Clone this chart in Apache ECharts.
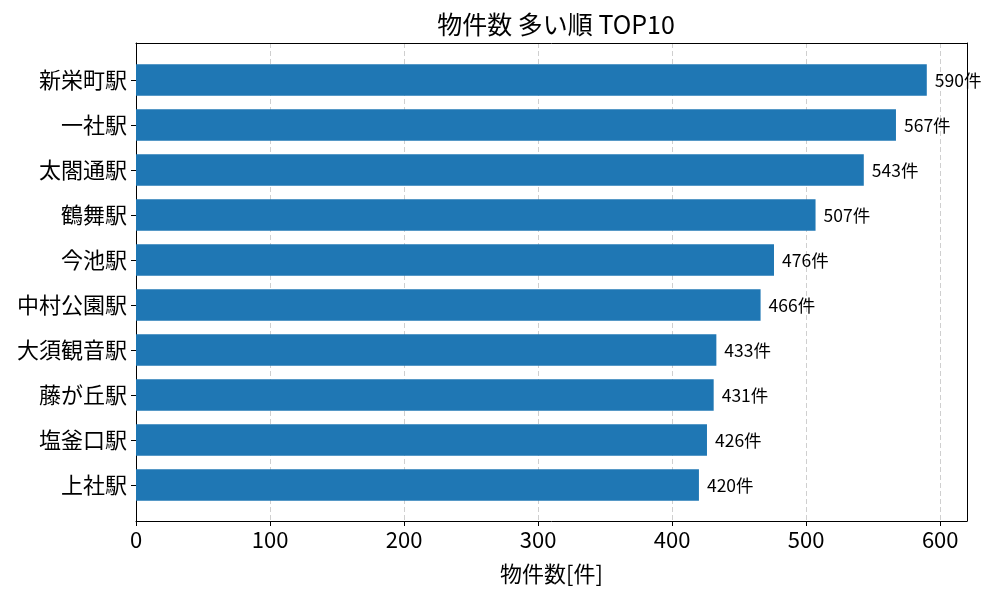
<!DOCTYPE html>
<html>
<head>
<meta charset="utf-8">
<script src="https://cdn.jsdelivr.net/npm/echarts@6/dist/echarts.min.js"></script>
<style>
  html, body { margin: 0; padding: 0; background: #fff; }
  #main { width: 1000px; height: 600px; }
</style>
</head>
<body>
<div id="main"></div>
<script type="text/javascript">
// 駅名（上から多い順）
var stations = ['新栄町駅', '一社駅', '太閤通駅', '鶴舞駅', '今池駅', '中村公園駅', '大須観音駅', '藤が丘駅', '塩釜口駅', '上社駅'];
// 物件数
var counts = [590, 567, 543, 507, 476, 466, 433, 431, 426, 420];

var FONT = '"Noto Sans CJK JP", "Noto Sans", sans-serif';

// 枠線用の軸（ラベル・目盛なし）
function frameLine() {
    return { show: true, onZero: false, lineStyle: { color: '#000', width: 1 } };
}

var chart = echarts.init(document.getElementById('main'));
chart.setOption({
    backgroundColor: '#fff',
    animation: false,
    title: {
        text: '物件数 多い順 TOP10',
        left: 551,
        textAlign: 'center',
        top: 7,
        textStyle: { fontFamily: FONT, fontSize: 25, fontWeight: 'normal', color: '#000' }
    },
    // grid 0: 枠とグリッド線、grid 1: 棒
    grid: [
        { left: 136, right: 33, top: 43, bottom: 79 },
        { left: 136, right: 33, top: 57.5, bottom: 92.5 }
    ],
    xAxis: [{
        gridIndex: 0,
        type: 'value',
        min: 0,
        max: 620,
        interval: 100,
        name: '物件数[件]',
        nameLocation: 'middle',
        nameGap: 42,
        nameTextStyle: { fontFamily: FONT, fontSize: 22, color: '#000' },
        axisLine: frameLine(),
        axisTick: { show: true, length: 5, lineStyle: { color: '#000' } },
        axisLabel: { fontFamily: FONT, fontSize: 22, color: '#000', margin: 8 },
        splitLine: { show: true, showMinLine: false, showMaxLine: false, lineStyle: { type: [5, 3], color: '#cfcfcf', width: 1 } }
    }, {
        gridIndex: 0,
        type: 'value',
        position: 'top',
        min: 0,
        max: 620,
        axisLine: frameLine(),
        axisTick: { show: false },
        axisLabel: { show: false },
        splitLine: { show: false }
    }, {
        gridIndex: 1,
        type: 'value',
        min: 0,
        max: 620,
        show: false
    }],
    yAxis: [{
        gridIndex: 0,
        type: 'value',
        position: 'left',
        min: 0,
        max: 1,
        axisLine: frameLine(),
        axisTick: { show: false },
        axisLabel: { show: false },
        splitLine: { show: false }
    }, {
        gridIndex: 0,
        type: 'value',
        position: 'right',
        min: 0,
        max: 1,
        axisLine: frameLine(),
        axisTick: { show: false },
        axisLabel: { show: false },
        splitLine: { show: false }
    }, {
        gridIndex: 1,
        type: 'category',
        inverse: true,
        data: stations,
        axisLine: { show: false },
        axisTick: { show: true, alignWithLabel: true, length: 5, lineStyle: { color: '#000' } },
        axisLabel: { fontFamily: FONT, fontSize: 22, color: '#000', margin: 9 }
    }],
    series: [{
        type: 'bar',
        xAxisIndex: 2,
        yAxisIndex: 2,
        data: counts,
        barWidth: '70%',
        itemStyle: { color: '#1f77b4' },
        label: {
            show: true,
            position: 'right',
            distance: 8,
            formatter: '{c}件',
            fontFamily: FONT,
            fontSize: 17.5,
            color: '#000'
        }
    }]
});
</script>
</body>
</html>
